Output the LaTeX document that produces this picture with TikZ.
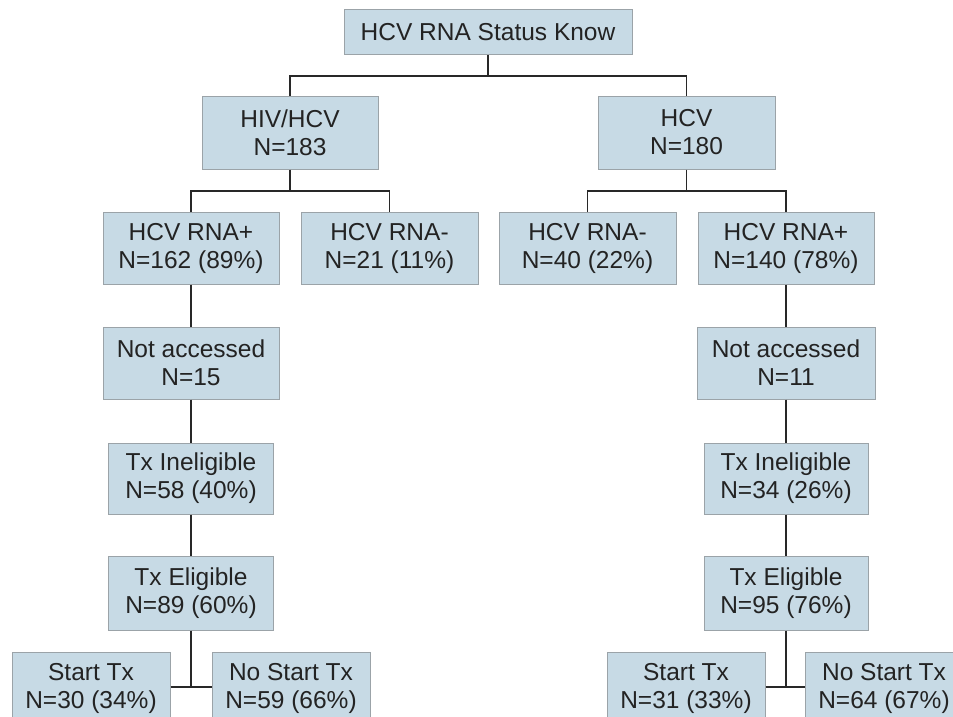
\documentclass[tikz,border=0pt]{standalone}
\usepackage{fontspec}
\setmainfont{Liberation Sans}
\definecolor{boxfill}{RGB}{199,218,229}
\definecolor{boxline}{RGB}{155,163,168}
\definecolor{txt}{RGB}{35,35,35}
\definecolor{conn}{RGB}{40,40,40}
\begin{document}
\begin{tikzpicture}[x=1pt,y=-1pt,
  box/.style={draw=boxline, line width=1pt, fill=boxfill, text=txt, align=center,
    inner sep=0pt, font=\fontsize{24.5}{28}\selectfont},
  link/.style={draw=conn, line width=1.4pt}]
\useasboundingbox (0,0) rectangle (953,717);
% nodes
\node[box, minimum width=288, minimum height=45] (top) at (488,32.5) {HCV RNA Status Know};
\node[box, minimum width=176, minimum height=73] (hiv) at (290,132.5) {HIV/HCV\\N=183};
\node[box, minimum width=177, minimum height=73] (hcv) at (686.5,132.5) {HCV\\N=180};
\node[box, minimum width=176, minimum height=72] (lpos) at (191,248) {HCV RNA+\\N=162 (89\%)};
\node[box, minimum width=177, minimum height=72] (lneg) at (389.5,248) {HCV RNA-\\N=21 (11\%)};
\node[box, minimum width=177, minimum height=72] (rneg) at (587.5,248) {HCV RNA-\\N=40 (22\%)};
\node[box, minimum width=176, minimum height=72] (rpos) at (786,248) {HCV RNA+\\N=140 (78\%)};
\node[box, minimum width=176, minimum height=72] (lna) at (191,363) {Not accessed\\N=15};
\node[box, minimum width=178, minimum height=72] (rna) at (786,363) {Not accessed\\N=11};
\node[box, minimum width=165, minimum height=71] (lti) at (191,478.5) {Tx Ineligible\\N=58 (40\%)};
\node[box, minimum width=164, minimum height=71] (rti) at (786,478.5) {Tx Ineligible\\N=34 (26\%)};
\node[box, minimum width=165, minimum height=74] (lte) at (191,593) {Tx Eligible\\N=89 (60\%)};
\node[box, minimum width=164, minimum height=74] (rte) at (786,593) {Tx Eligible\\N=95 (76\%)};
\node[box, minimum width=158, minimum height=73] (lst) at (91,688.5) {Start Tx\\N=30 (34\%)};
\node[box, minimum width=158, minimum height=73] (lns) at (291,688.5) {No Start Tx\\N=59 (66\%)};
\node[box, minimum width=158, minimum height=73] (rst) at (686,688.5) {Start Tx\\N=31 (33\%)};
\node[box, minimum width=158, minimum height=73] (rns) at (884,688.5) {No Start Tx\\N=64 (67\%)};
% junctions
\coordinate (j0) at (488,76);
\coordinate (j1) at (290,191);
\coordinate (j2) at (686.5,191);
\coordinate (j3) at (191,687);
\coordinate (j4) at (786,687);
% connectors
\draw[link] (top.south) -- (j0);
\draw[link] (hiv.north) |- (j0) -| (hcv.north);
\draw[link] (hiv.south) -- (j1);
\draw[link] (lpos.north) |- (j1) -| (lneg.north);
\draw[link] (hcv.south) -- (j2);
\draw[link] (rneg.north) |- (j2) -| (rpos.north);
\draw[link] (lpos.south) -- (lna.north);
\draw[link] (lna.south) -- (lti.north);
\draw[link] (lti.south) -- (lte.north);
\draw[link] (lte.south) -- (j3);
\draw[link] (lst.east |- j3) -- (lns.west |- j3);
\draw[link] (rpos.south) -- (rna.north);
\draw[link] (rna.south) -- (rti.north);
\draw[link] (rti.south) -- (rte.north);
\draw[link] (rte.south) -- (j4);
\draw[link] (rst.east |- j4) -- (rns.west |- j4);
\end{tikzpicture}
\end{document}
